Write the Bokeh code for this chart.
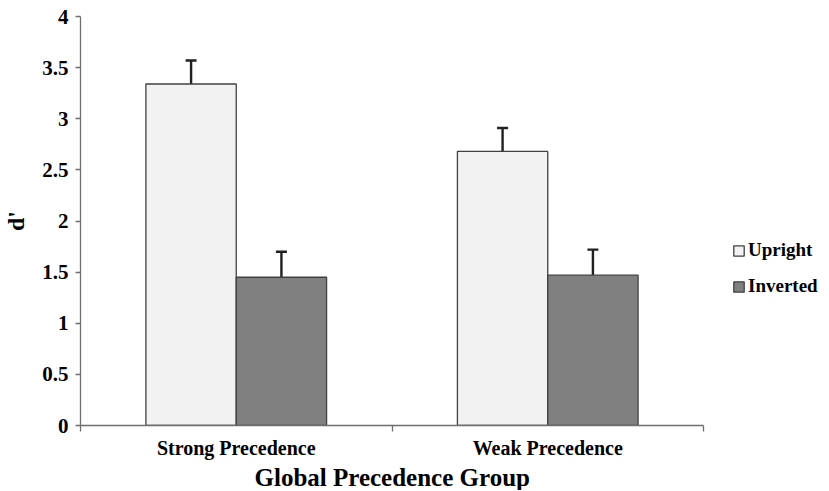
from bokeh.plotting import figure
from bokeh.models import (ColumnDataSource, FixedTicker, Whisker, TeeHead,
                          Legend, LegendItem, Range1d, Title)
from bokeh.embed import file_html
from bokeh.resources import INLINE

groups = ["Strong Precedence", "Weak Precedence"]
conditions = ["Upright", "Inverted"]
upright = [3.34, 2.68]
inverted = [1.45, 1.47]
upright_err = [0.23, 0.23]
inverted_err = [0.25, 0.25]
colors = ["#f2f2f2", "#808080"]
y_ticks = [0, 0.5, 1, 1.5, 2, 2.5, 3, 3.5, 4]
x_title = "Global Precedence Group"
y_title = "d'"

FONT = "Liberation Serif"
bar_w = 0.29
axis_px = 623      # pixel width of the two category slots
frame_px = 742     # frame extends to the right edge to host the legend
n = len(groups)

p = figure(frame_width=frame_px, frame_height=409, output_backend="svg",
           toolbar_location=None,
           x_range=Range1d(0, n * frame_px / axis_px), y_range=Range1d(0, 4),
           min_border_left=71, min_border_top=16, min_border_right=0,
           min_border_bottom=0)
p.outline_line_color = None
p.xgrid.visible = False
p.ygrid.visible = False

centers = [i + 0.5 for i in range(n)]
bounds = [float(i) for i in range(n + 1)]
series = [upright, inverted]
errs = [upright_err, inverted_err]
offsets = [-bar_w / 2, bar_w / 2]
items = []
for k, cond in enumerate(conditions):
    xs = [c + offsets[k] for c in centers]
    src = ColumnDataSource(dict(x=xs, top=series[k],
                                upper=[v + e for v, e in zip(series[k], errs[k])]))
    r = p.vbar(x="x", top="top", width=bar_w, source=src, fill_color=colors[k],
               line_color="#404040", line_width=1.3)
    w = Whisker(base="x", lower="top", upper="upper", source=src,
                line_color="#202020", line_width=2.4,
                upper_head=TeeHead(size=11, line_color="#202020", line_width=2.4),
                lower_head=None)
    p.add_layout(w)
    items.append(LegendItem(label=cond, renderers=[r]))

# y axis
p.yaxis.ticker = FixedTicker(ticks=y_ticks)
p.yaxis.major_label_overrides = {t: (str(int(t)) if t == int(t) else str(t)) for t in y_ticks}
p.yaxis.axis_line_color = "#6e6e6e"
p.yaxis.axis_line_width = 1.3
p.yaxis.major_tick_line_color = "#6e6e6e"
p.yaxis.major_tick_line_width = 1.3
p.yaxis.major_tick_in = 0
p.yaxis.major_tick_out = 5
p.yaxis.minor_tick_line_color = None
p.yaxis.major_label_text_font = FONT
p.yaxis.major_label_text_font_style = "bold"
p.yaxis.major_label_text_font_size = "21px"
p.yaxis.major_label_text_color = "#000000"
p.yaxis.major_label_standoff = 7
p.yaxis.axis_label = y_title
p.yaxis.axis_label_text_font = FONT
p.yaxis.axis_label_text_font_style = "bold"
p.yaxis.axis_label_text_font_size = "24px"
p.yaxis.axis_label_text_color = "#000000"
p.yaxis.axis_label_standoff = 10

# x axis
p.xaxis.bounds = (0, n)
p.xaxis.ticker = FixedTicker(ticks=centers, minor_ticks=bounds)
p.xaxis.major_label_overrides = {c: g for c, g in zip(centers, groups)}
p.xaxis.axis_line_color = "#6e6e6e"
p.xaxis.axis_line_width = 1.3
p.xaxis.major_tick_line_color = None
p.xaxis.major_tick_in = 0
p.xaxis.major_tick_out = 0
p.xaxis.minor_tick_line_color = "#6e6e6e"
p.xaxis.minor_tick_line_width = 1.3
p.xaxis.minor_tick_in = 0
p.xaxis.minor_tick_out = 6
p.xaxis.major_label_text_font = FONT
p.xaxis.major_label_text_font_style = "bold"
p.xaxis.major_label_text_font_size = "20px"
p.xaxis.major_label_text_color = "#000000"
p.xaxis.major_label_standoff = 5

# x-axis title centred under the two category slots
xt = Title(text=x_title, align="left", offset=174,
           text_font=FONT, text_font_style="bold", text_font_size="25px",
           text_color="#000000", standoff=0)
p.add_layout(xt, "below")

legend = Legend(items=items, location=(652, 128))
legend.label_text_font = FONT
legend.label_text_font_style = "bold"
legend.label_text_font_size = "19px"
legend.label_text_color = "#000000"
legend.glyph_width = 13
legend.glyph_height = 13
legend.spacing = 14
legend.label_standoff = 3
legend.border_line_color = None
legend.background_fill_alpha = 0
legend.padding = 0
legend.margin = 0
legend.label_height = 21
legend.label_width = 70
p.add_layout(legend, "center")

open("out.html", "w").write(file_html(p, INLINE))
